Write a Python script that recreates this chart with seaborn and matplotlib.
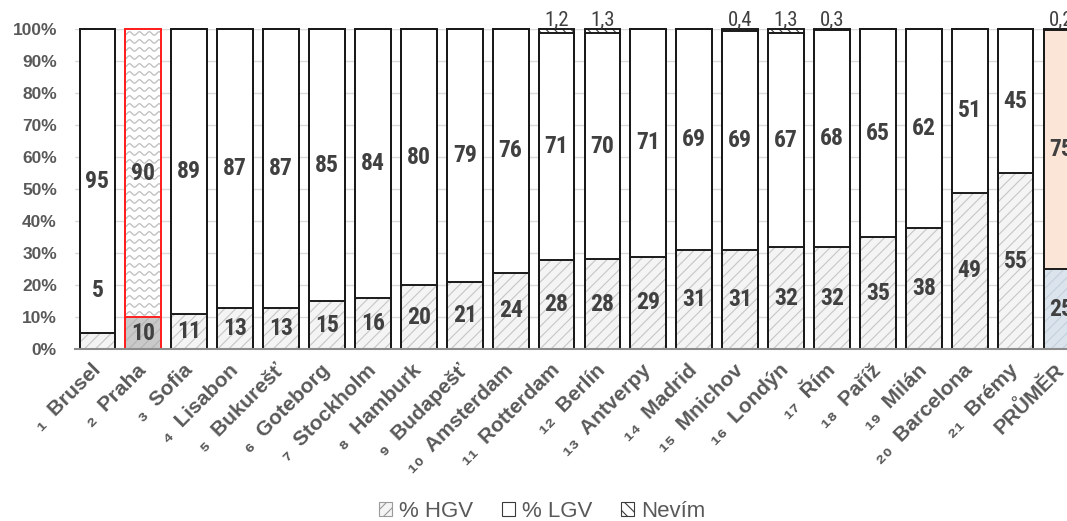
import matplotlib
matplotlib.use("Agg")
import matplotlib.pyplot as plt
from matplotlib import font_manager as fm
from matplotlib.patches import Patch
import numpy as np
import pandas as pd
import seaborn as sns

# --- data ---------------------------------------------------------------
mesta = ["Brusel", "Praha", "Sofia", "Lisabon", "Bukurešť", "Goteborg",
         "Stockholm", "Hamburk", "Budapešť", "Amsterdam", "Rotterdam",
         "Berlín", "Antverpy", "Madrid", "Mnichov", "Londýn", "Řím",
         "Paříž", "Milán", "Barcelona", "Brémy", "PRŮMĚR"]
poradi = [1, 2, 3, 4, 5, 6, 7, 8, 9, 10, 11, 12, 13, 14, 15, 16, 17, 18,
          19, 20, 21, None]
hgv = [5, 10, 11, 13, 13, 15, 16, 20, 21, 24, 28, 28, 29, 31, 31, 32, 32,
       35, 38, 49, 55, 25]
lgv = [95, 90, 89, 87, 87, 85, 84, 80, 79, 76, 71, 70, 71, 69, 69, 67, 68,
       65, 62, 51, 45, 75]
nevim = [0, 0, 0, 0, 0, 0, 0, 0, 0, 0, 1.2, 1.3, 0, 0, 0.4, 1.3, 0.3,
         0, 0, 0, 0, 0.2]

df = pd.DataFrame({"mesto": mesta, "hgv": hgv, "lgv": lgv, "nevim": nevim})
celkem = df["hgv"] + df["lgv"] + df["nevim"]
# 100 % stacked: every column is scaled to its own total
df["p_hgv"] = df["hgv"] / celkem * 100
df["p_hgv_lgv"] = (df["hgv"] + df["lgv"]) / celkem * 100
df["p_vse"] = 100.0

# --- fonts --------------------------------------------------------------
sns.set_theme(style="white")
nazvy = {f.name for f in fm.fontManager.ttflist}
zaklad = "Liberation Sans" if "Liberation Sans" in nazvy else "DejaVu Sans"
plt.rcParams["font.family"] = [zaklad, "DejaVu Sans"]
plt.rcParams["hatch.linewidth"] = 0.8


def uzke_pismo(tucne):
    """Pick a narrow sans face for the value labels, if one is installed."""
    kandidati = []
    for f in fm.fontManager.ttflist:
        uzky = ("Narrow" in f.name or "Condensed" in f.name
                or f.stretch in ("condensed", "semi-condensed", 600 - 100))
        if not uzky or f.style != "normal":
            continue
        w = f.weight if isinstance(f.weight, int) else (700 if "bold" in str(f.weight) else 400)
        if tucne != (w >= 600):
            continue
        poradi_rodin = ["Liberation Sans Narrow", "Noto Sans", "Roboto",
                        "Open Sans", "Lato", "Inter", "DejaVu Sans"]
        r = next((k for k, n in enumerate(poradi_rodin) if f.name.startswith(n)), 99)
        stretch_skore = 0 if f.stretch in ("condensed", 300) else 1
        kandidati.append((r, stretch_skore, abs(w - (700 if tucne else 400)), f.fname))
    if kandidati:
        kandidati.sort()
        return fm.FontProperties(fname=kandidati[0][3]), True
    return fm.FontProperties(family=zaklad, weight="bold" if tucne else "normal"), False


pismo_hodnot, je_uzke = uzke_pismo(True)
pismo_nevim, je_uzke_n = uzke_pismo(False)

SEDA_TEXT = "#595959"
TMAVA_TEXT = "#404040"

fig = plt.figure(figsize=(10.67, 5.21), dpi=100)
ax = fig.add_axes([75 / 1067, 1 - 349.3 / 521, 1 - 75 / 1067, 320 / 521])

sirka = 0.78
n = len(mesta)
idx_praha = mesta.index("Praha")
idx_prumer = mesta.index("PRŮMĚR")


def vrstva(sloupec, barvy):
    """Draw one filled layer of the stacked columns and return its patches."""
    pred = len(ax.patches)
    sns.barplot(data=df, x="mesto", y=sloupec, hue="mesto", order=mesta,
                hue_order=mesta, palette=dict(zip(mesta, barvy)),
                legend=False, width=sirka, errorbar=None, saturation=1,
                linewidth=0, ax=ax)
    nove = ax.patches[pred:]
    return {int(round(p.get_x() + p.get_width() / 2)): p for p in nove}


# Nevím layer (full column), dense dark hatch
v_nevim = vrstva("p_vse", ["white"] * n)
for i, p in v_nevim.items():
    p.set_hatch("\\\\\\\\")
    p.set_edgecolor("#3a3a3a")
    p.set_linewidth(0)

# LGV layer
barvy_lgv = ["white"] * n
barvy_lgv[idx_prumer] = "#fbe5d6"
v_lgv = vrstva("p_hgv_lgv", barvy_lgv)
for p in v_lgv.values():
    p.set_linewidth(0)

# HGV layer, light diagonal hatch
barvy_hgv = ["#f4f4f4"] * n
barvy_hgv[idx_praha] = "#c9c9c9"
barvy_hgv[idx_prumer] = "#dbe4ec"
v_hgv = vrstva("p_hgv", barvy_hgv)
for i, p in v_hgv.items():
    p.set_hatch("///")
    p.set_linewidth(0)
    if i == idx_praha:
        p.set_edgecolor("#b4b4b4")
    elif i == idx_prumer:
        p.set_edgecolor("#c3d0dc")
    else:
        p.set_edgecolor("#c6c6c6")

# wavy pattern on the highlighted LGV segment
p_lgv_praha = v_lgv[idx_praha]
xs = np.linspace(idx_praha - 0.5, idx_praha + 0.5, 300)
for y0 in np.arange(df.loc[idx_praha, "p_hgv"] + 1.2, 101, 2.5):
    ln, = ax.plot(xs, y0 + 0.55 * np.sin(2 * np.pi * xs / 0.215),
                  color="#bdbdbd", lw=0.9, zorder=1.5)
    ln.set_clip_path(p_lgv_praha)

# outlines of all three layers
for sloupec in ["p_vse", "p_hgv_lgv", "p_hgv"]:
    pred = len(ax.patches)
    sns.barplot(data=df, x="mesto", y=sloupec, order=mesta, fill=False,
                color="black", width=sirka, errorbar=None, linewidth=1.4,
                ax=ax)
    for p in ax.patches[pred:]:
        p.set_zorder(3)
        p.set_clip_on(False)
        i = int(round(p.get_x() + p.get_width() / 2))
        p.set_edgecolor("#ff2020" if i == idx_praha else "#1a1a1a")

# --- labels in the columns ---------------------------------------------
vel_hodnot = 17 if je_uzke else 15
vel_nevim = 15 if je_uzke_n else 13.5
for i in range(n):
    h = df.loc[i, "p_hgv"]
    hl = df.loc[i, "p_hgv_lgv"]
    y_hgv = h / 2 if h >= 8 else 18.5
    ax.text(i, y_hgv, f"{df.loc[i, 'hgv']:g}", ha="center", va="center",
            fontproperties=pismo_hodnot, fontsize=vel_hodnot,
            color=TMAVA_TEXT, zorder=4)
    ax.text(i, (h + hl) / 2, f"{df.loc[i, 'lgv']:g}", ha="center",
            va="center", fontproperties=pismo_hodnot, fontsize=vel_hodnot,
            color=TMAVA_TEXT, zorder=4)
    if df.loc[i, "nevim"] > 0:
        ax.text(i, 99.9, f"{df.loc[i, 'nevim']:.1f}".replace(".", ","),
                ha="center", va="bottom", fontproperties=pismo_nevim,
                fontsize=vel_nevim, color=TMAVA_TEXT, zorder=4,
                clip_on=False)

# --- axes ---------------------------------------------------------------
ax.set_xlim(-0.49, 21.12)
ax.set_ylim(0, 100)
ax.set_yticks(np.arange(0, 101, 10))
ax.set_yticklabels([f"{v}%" for v in range(0, 101, 10)])
ax.yaxis.grid(True, color="#d9d9d9", lw=1)
ax.set_axisbelow(True)
for s in ["left", "right", "top"]:
    ax.spines[s].set_visible(False)
ax.spines["bottom"].set_color("#8c8c8c")
ax.spines["bottom"].set_linewidth(1.5)
ax.spines["bottom"].set_zorder(4)

dolni = str.maketrans("0123456789", "₀₁₂₃₄₅₆₇₈₉")
popisky = [(f"{str(c).translate(dolni)}  " if c else "") + m
           for c, m in zip(poradi, mesta)]
ax.set_xticks(range(n))
ax.set_xticklabels(popisky, rotation=45, ha="right", va="center",
                   rotation_mode="anchor", fontsize=15, fontweight="bold",
                   color=SEDA_TEXT)
ax.set_xlabel("")
ax.set_ylabel("")
ax.tick_params(axis="x", length=0, pad=13)
ax.tick_params(axis="y", length=0, pad=13, labelsize=12.5, labelcolor=SEDA_TEXT)
for t in ax.get_yticklabels():
    t.set_fontweight("bold")

# --- legend -------------------------------------------------------------
uchyty = [
    Patch(facecolor="#f4f4f4", edgecolor="#9a9a9a", hatch="///", lw=0.8,
          label="% HGV"),
    Patch(facecolor="white", edgecolor="#3a3a3a", lw=0.8, label="% LGV"),
    Patch(facecolor="white", edgecolor="#3a3a3a", hatch="\\\\\\", lw=0.8,
          label="Nevím"),
]
fig.legend(handles=uchyty, loc="center", bbox_to_anchor=(0.508, 0.018),
           ncol=3, frameon=False, fontsize=16, handlelength=0.6,
           handleheight=0.6, handletextpad=0.3, columnspacing=1.3,
           labelcolor=SEDA_TEXT)

fig.savefig("out.png", dpi=100)
